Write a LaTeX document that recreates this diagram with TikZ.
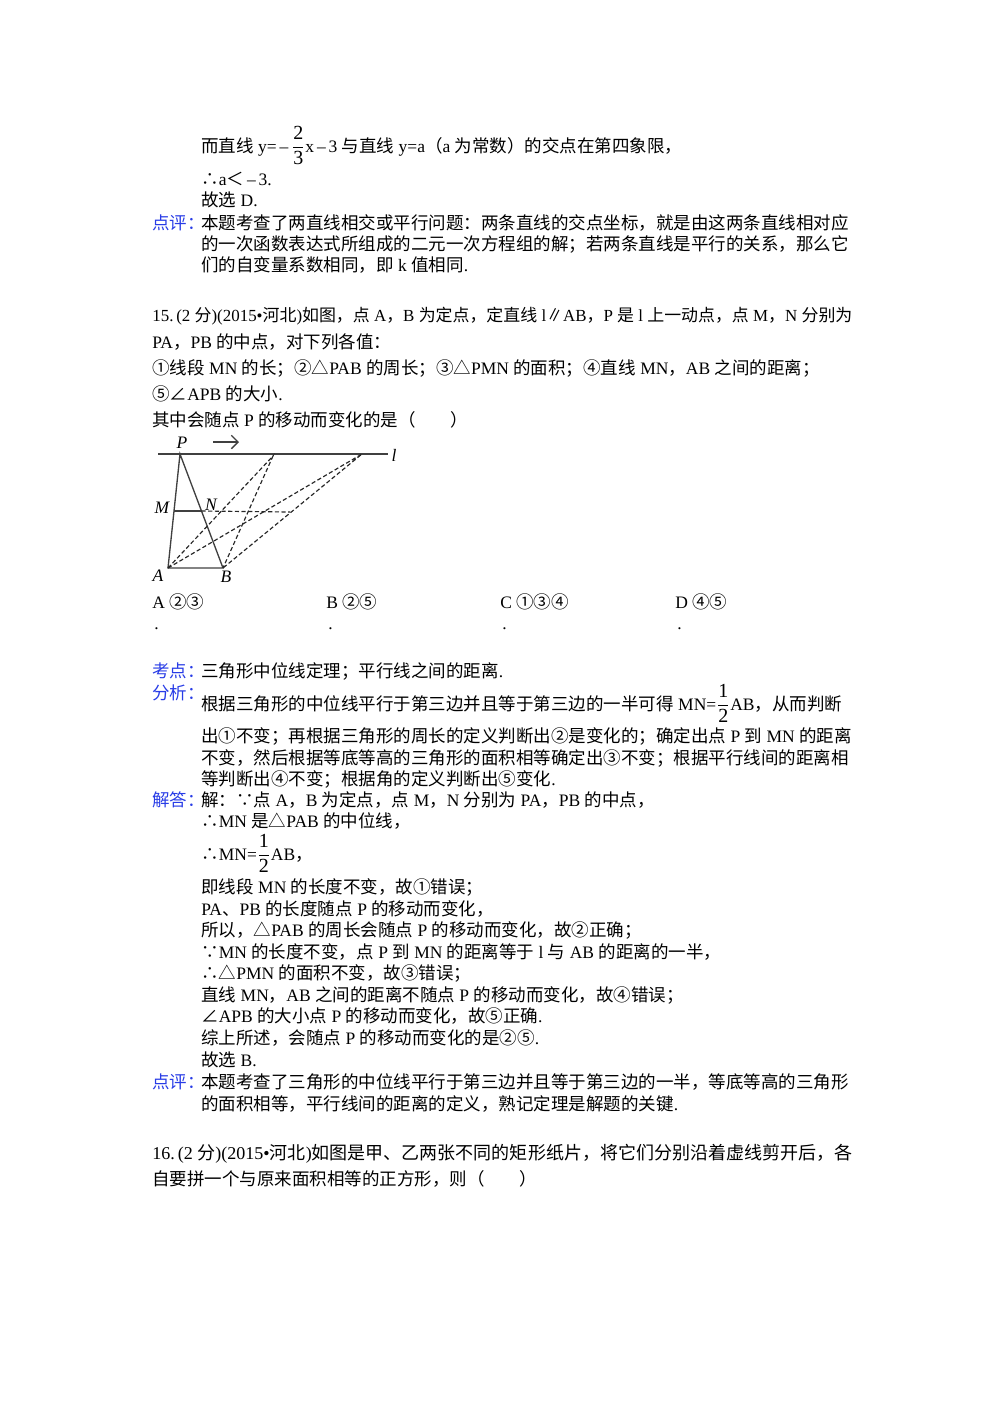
\documentclass[tikz,border=0pt]{standalone}
\usetikzlibrary{arrows.meta}
\usepackage{fontspec}
\setmainfont{Liberation Serif}
\newfontfamily\cjkf{Noto Sans CJK SC}
\makeatletter
\newXeTeXintercharclass\CJKcls
\def\setcls#1#2{\count@=#1\relax\loop\XeTeXcharclass\count@=\CJKcls\ifnum\count@<#2\advance\count@ by 1\repeat}
\setcls{"4E00}{"9FFF}
\setcls{"3000}{"303F}
\setcls{"FF00}{"FFEF}
\setcls{"2460}{"2473}
\XeTeXcharclass"2234=\CJKcls
\XeTeXcharclass"2235=\CJKcls
\XeTeXcharclass"25B3=\CJKcls
\XeTeXcharclass"2220=\CJKcls
\XeTeXcharclass"2225=\CJKcls
\makeatother
\XeTeXinterchartoks 0 \CJKcls = {\cjkf}
\XeTeXinterchartoks 4095 \CJKcls = {\cjkf}
\XeTeXinterchartoks \CJKcls 0 = {\rmfamily}
\XeTeXinterchartoks \CJKcls 4095 = {\rmfamily}
\XeTeXinterchartokenstate=1
\definecolor{lbl}{RGB}{40,60,230}
\tikzset{txt/.style={anchor=base west,inner sep=0,font=\fontsize{10.5}{13}\selectfont},
lb/.style={txt,text=lbl},
fig/.style={line width=0.8pt,draw=black!75},
dsh/.style={line width=0.7pt,draw=black!85,dash pattern=on 2.5pt off 1.5pt},
pl/.style={inner sep=0,font=\fontsize{10.5}{12}\selectfont\itshape}}
\newcommand\bfr[2]{$\displaystyle\frac{\mbox{\fontsize{12}{12}\selectfont #1}}{\mbox{\fontsize{12}{12}\selectfont #2}}$}
\begin{document}
\begin{tikzpicture}[x=0.6pt,y=-0.6pt]
\useasboundingbox (0,0) rectangle (1000,1414);
\node[txt] (t1) at (201,152) {而直线 y=\,–\,\bfr{2}{3}x\,–\,3 与直线 y=a（a 为常数）的交点在第四象限，};
\node[txt] (t2) at (201,185) {∴a＜\,–\,3.};
\node[txt] (t3) at (201,206) {故选 D.};
\node[lb] (l1) at (152,229) {点评：};
\node[txt] (t4) at (201,229) {本题考查了两直线相交或平行问题：两条直线的交点坐标，就是由这两条直线相对应};
\node[txt] (t5) at (201,250) {的一次函数表达式所组成的二元一次方程组的解；若两条直线是平行的关系，那么它};
\node[txt] (t6) at (201,271) {们的自变量系数相同，即 k 值相同.};
\node[txt] (q1) at (152,321) {\resizebox{420pt}{!}{15.\,(2 分)(2015•河北)如图，点 A，B 为定点，定直线 l∥AB，P 是 l 上一动点，点 M，N 分别为}};
\node[txt] (q2) at (152,348) {PA，PB 的中点，对下列各值：};
\node[txt] (q3) at (152,374) {①线段 MN 的长；②△PAB 的周长；③△PMN 的面积；④直线 MN，AB 之间的距离；};
\node[txt] (q4) at (152,400) {⑤∠APB 的大小.};
\node[txt] (q5) at (152,426) {其中会随点 P 的移动而变化的是（　　）};
% figure
\coordinate (P) at (180,454); \coordinate (A) at (168,568); \coordinate (B) at (223,568);
\coordinate (M) at (174,511); \coordinate (N) at (201.5,511);
\coordinate (P2) at (273,456); \coordinate (P3) at (362,454);
\coordinate (L0) at (158,454); \coordinate (L1) at (388,454);
\coordinate (N3) at (290,512);
\draw[fig] (L0) -- (L1);
\draw[fig] (P) -- (A) -- (B) -- cycle;
\draw[fig] (M) -- (N);
\draw[dsh] (A) -- (P2) -- (B);
\draw[dsh] (A) -- (P3) -- (B);
\draw[dsh] (N) -- (N3);
\coordinate (ar0) at (213,442); \coordinate (ar1) at (239,442);
\draw[fig,-{Straight Barb[length=4pt]}] (ar0) -- (ar1);
\node[pl] (lP) at (182,443) {P};
\node[pl] (ll) at (394,455) {l};
\node[pl] (lM) at (162,508) {M};
\node[pl] (lN) at (211,505) {N};
\node[pl] (lA) at (158,576) {A};
\node[pl] (lB) at (226,577) {B};
% choices
\node[txt] (cA) at (152,608) {A ②③};
\node[txt] (cB) at (326,608) {B ②⑤};
\node[txt] (cC) at (500,608) {C ①③④};
\node[txt] (cD) at (675,608) {D ④⑤};
\node[txt] (dA) at (154,629) {.};
\node[txt] (dB) at (328,629) {.};
\node[txt] (dC) at (502,629) {.};
\node[txt] (dD) at (677,629) {.};
\node[lb] (l2) at (152,677) {考点：};
\node[txt] (k1) at (201,677) {三角形中位线定理；平行线之间的距离.};
\node[lb] (l3) at (152,699) {分析：};
\node[txt] (f1) at (201,710) {根据三角形的中位线平行于第三边并且等于第三边的一半可得 MN=\bfr{1}{2}AB，从而判断};
\node[txt] (f2) at (201,742) {出①不变；再根据三角形的周长的定义判断出②是变化的；确定出点 P 到 MN 的距离};
\node[txt] (f3) at (201,764) {不变，然后根据等底等高的三角形的面积相等确定出③不变；根据平行线间的距离相};
\node[txt] (f4) at (201,785) {等判断出④不变；根据角的定义判断出⑤变化.};
\node[lb] (l4) at (152,806) {解答：};
\node[txt] (j1) at (201,806) {解：∵点 A，B 为定点，点 M，N 分别为 PA，PB 的中点，};
\node[txt] (j2) at (201,827) {∴MN 是△PAB 的中位线，};
\node[txt] (j3) at (201,860) {∴MN=\bfr{1}{2}AB，};
\node[txt] (j4) at (201,893) {即线段 MN 的长度不变，故①错误；};
\node[txt] (j5) at (201,915) {PA、PB 的长度随点 P 的移动而变化，};
\node[txt] (j6) at (201,936) {所以，△PAB 的周长会随点 P 的移动而变化，故②正确；};
\node[txt] (j7) at (201,958) {∵MN 的长度不变，点 P 到 MN 的距离等于 l 与 AB 的距离的一半，};
\node[txt] (j8) at (201,979) {∴△PMN 的面积不变，故③错误；};
\node[txt] (j9) at (201,1001) {直线 MN，AB 之间的距离不随点 P 的移动而变化，故④错误；};
\node[txt] (j10) at (201,1022) {∠APB 的大小点 P 的移动而变化，故⑤正确.};
\node[txt] (j11) at (201,1044) {综上所述，会随点 P 的移动而变化的是②⑤.};
\node[txt] (j12) at (201,1066) {故选 B.};
\node[lb] (l5) at (152,1088) {点评：};
\node[txt] (p1) at (201,1088) {本题考查了三角形的中位线平行于第三边并且等于第三边的一半，等底等高的三角形};
\node[txt] (p2) at (201,1110) {的面积相等，平行线间的距离的定义，熟记定理是解题的关键.};
\node[txt] (s1) at (152,1159) {\resizebox{420pt}{!}{16.\,(2 分)(2015•河北)如图是甲、乙两张不同的矩形纸片，将它们分别沿着虚线剪开后，各}};
\node[txt] (s2) at (152,1185) {自要拼一个与原来面积相等的正方形，则（　　）};
\end{tikzpicture}
\end{document}
